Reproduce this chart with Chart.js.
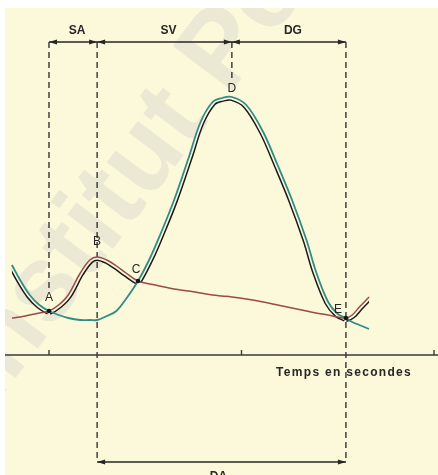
<!DOCTYPE html>
<html>
<head>
<meta charset="utf-8">
<script src="https://cdn.jsdelivr.net/npm/chart.js@4.4.1/dist/chart.umd.min.js"></script>
<style>
  html, body { margin: 0; padding: 0; background: #fff; }
  #wrap { position: absolute; left: 5px; top: 8px; width: 433px; height: 467px; background: #fcf8da; }
</style>
</head>
<body>
<div id="wrap"><canvas id="cycle"></canvas></div>
<script>
// time in seconds, pressures in mmHg
const times = [-0.077, -0.06, -0.04, -0.02, 0, 0.02, 0.04, 0.065, 0.085, 0.10, 0.12, 0.14, 0.16, 0.185, 0.21, 0.23, 0.26, 0.29, 0.315, 0.34, 0.36, 0.38, 0.41, 0.445, 0.475, 0.505, 0.535, 0.555, 0.58, 0.60, 0.617, 0.63, 0.645, 0.665];
const ventricle = [36, 30, 24, 20, 17.6, 16, 14.8, 14, 14, 14, 15.6, 17.6, 22.4, 29.6, 38.8, 47.6, 62, 78.8, 93.2, 101.2, 102.8, 103.2, 100, 89.2, 76, 62, 46, 33.2, 21.2, 16.4, 14.8, 13.2, 12, 10.4];
const atrium = [14.8, 15.2, 16, 16.8, 17.6, 20, 24, 32.8, 38, 39.2, 38, 35.6, 32.8, 29.6, 28.4, 27.6, 26.4, 25.6, 24.8, 24, 23.6, 23.2, 22.4, 21.2, 20, 18.8, 17.6, 16.8, 16, 15.2, 14.8, 16, 19.2, 23.2];

const pointLetters = ['A', 'B', 'C', 'D', 'E'];
const pointTimes = [0, 0.10, 0.185, 0.38, 0.617];
const phaseNames = ['SA', 'SV', 'DG'];
const phaseEdges = [0, 0.10, 0.38, 0.617];
const diastoleName = 'DA';
const diastoleSpan = [0.10, 0.617];
const timeTicks = [0, 0.4, 0.8];
const axisTitle = 'Temps en secondes';

const FONT = '"Liberation Sans", Arial, sans-serif';
const INK = '#262626';
const TEAL = '#2f8c86';
const RED = '#9b4a46';
const PAPER = '#fcf8da';

// letter placement relative to the curve point
const letterShift = { A: [0, -13], B: [0, -15], C: [-2, -11], D: [0, -8], E: [-8, -8] };

function upperOf(own, other) {
  return (c) => own[c.p0DataIndex] >= other[c.p0DataIndex] && own[c.p1DataIndex] >= other[c.p1DataIndex];
}

function series(values, color, width, extra) {
  return Object.assign({
    data: times.map((t, i) => ({ x: t, y: values[i] })),
    borderColor: color,
    borderWidth: width,
    pointRadius: 0,
    fill: false,
    tension: 0.35,
  }, extra || {});
}

// second trace under whichever curve is on top
function edge(values, other, color, width) {
  const upper = upperOf(values, other);
  return series(values, color, width, {
    edge: true,
    segment: { borderColor: (c) => (upper(c) ? color : 'rgba(0,0,0,0)') },
  });
}

// keep edge traces on the inner side of their curve
const edgeClip = {
  id: 'edgeClip',
  beforeDatasetDraw(chart, args) {
    const ds = chart.data.datasets[args.index];
    if (!ds.edge) return;
    args.meta.dataset.updateControlPoints(chart.chartArea, 'x');
    const pts = args.meta.data;
    const ctx = chart.ctx;
    const bottom = chart.chartArea.bottom + 20;
    ctx.save();
    ctx.beginPath();
    ctx.moveTo(pts[0].x, pts[0].y);
    for (let i = 1; i < pts.length; i++) {
      const a = pts[i - 1], b = pts[i];
      ctx.bezierCurveTo(a.cp2x, a.cp2y, b.cp1x, b.cp1y, b.x, b.y);
    }
    ctx.lineTo(pts[pts.length - 1].x, bottom);
    ctx.lineTo(pts[0].x, bottom);
    ctx.closePath();
    ctx.clip();
  },
  afterDatasetDraw(chart, args) {
    if (chart.data.datasets[args.index].edge) chart.ctx.restore();
  },
};

function arrowHead(ctx, tipX, yy, dir) {
  ctx.beginPath();
  ctx.moveTo(tipX, yy);
  ctx.lineTo(tipX - dir * 8, yy - 2.6);
  ctx.lineTo(tipX - dir * 8, yy + 2.6);
  ctx.closePath();
  ctx.fill();
}

function letterPos(chart, k) {
  const { x, y } = chart.scales;
  const i = times.indexOf(pointTimes[k]);
  const v = Math.max(ventricle[i], atrium[i]);
  const [dx, dy] = letterShift[pointLetters[k]];
  return [x.getPixelForValue(pointTimes[k]) + dx, y.getPixelForValue(v) + dy];
}

const backdrop = {
  id: 'backdrop',
  beforeDatasetsDraw(chart) {
    const { ctx, chartArea: area, scales: { x, y } } = chart;
    const px = (t) => x.getPixelForValue(t);
    const topY = 34, lowY = 454;

    ctx.save();
    ctx.translate(-12, 400);
    ctx.rotate(-53 * Math.PI / 180);
    ctx.font = 'bold 108px ' + FONT;
    ctx.fillStyle = 'rgba(200,200,200,0.32)';
    ctx.fillText('Institut Pé', 0, 0);
    ctx.restore();

    ctx.save();
    ctx.strokeStyle = INK;
    ctx.fillStyle = INK;
    ctx.lineWidth = 1.3;

    // dashed guides at phase limits
    ctx.setLineDash([6, 4]);
    phaseEdges.forEach((t) => {
      let end = lowY;
      if (!diastoleSpan.includes(t)) {
        end = letterPos(chart, pointTimes.indexOf(t))[1] - 7;
      }
      ctx.beginPath();
      ctx.moveTo(px(t), topY);
      ctx.lineTo(px(t), end);
      ctx.stroke();
    });
    ctx.setLineDash([]);

    // phase brackets
    ctx.beginPath();
    ctx.moveTo(px(phaseEdges[0]), topY);
    ctx.lineTo(px(phaseEdges[phaseEdges.length - 1]), topY);
    ctx.moveTo(px(diastoleSpan[0]), lowY);
    ctx.lineTo(px(diastoleSpan[1]), lowY);
    ctx.stroke();

    ctx.font = 'bold 12px ' + FONT;
    ctx.textAlign = 'center';
    ctx.textBaseline = 'middle';
    phaseNames.forEach((name, k) => {
      const a = px(phaseEdges[k]), b = px(phaseEdges[k + 1]);
      arrowHead(ctx, a, topY, -1);
      arrowHead(ctx, b, topY, 1);
      ctx.fillText(name, (a + b) / 2 + 4, topY - 11);
    });
    const da = px(diastoleSpan[0]), db = px(diastoleSpan[1]);
    arrowHead(ctx, da, lowY, -1);
    arrowHead(ctx, db, lowY, 1);
    ctx.textBaseline = 'top';
    ctx.fillText(diastoleName, (da + db) / 2 - 3, lowY + 9);

    // time axis
    const y0 = y.getPixelForValue(0);
    ctx.strokeStyle = '#3a3a3a';
    ctx.lineWidth = 1.4;
    ctx.beginPath();
    ctx.moveTo(area.left, y0);
    ctx.lineTo(area.right, y0);
    timeTicks.forEach((t) => {
      ctx.moveTo(px(t), y0);
      ctx.lineTo(px(t), y0 - 5);
    });
    ctx.stroke();

    ctx.textAlign = 'right';
    ctx.textBaseline = 'middle';
    ctx.letterSpacing = '1.3px';
    ctx.fillText(axisTitle, area.right - 26, y0 + 18);
    ctx.restore();
  },
};

const marks = {
  id: 'marks',
  afterDatasetsDraw(chart) {
    const { ctx, scales: { x, y } } = chart;
    ctx.save();
    ctx.fillStyle = '#151515';
    times.forEach((t, i) => {
      if (ventricle[i] === atrium[i]) {
        ctx.beginPath();
        ctx.arc(x.getPixelForValue(t), y.getPixelForValue(ventricle[i]), 2.3, 0, Math.PI * 2);
        ctx.fill();
      }
    });
    ctx.fillStyle = INK;
    ctx.font = '12px ' + FONT;
    ctx.textAlign = 'center';
    ctx.textBaseline = 'middle';
    pointLetters.forEach((ch, k) => {
      const [lx, ly] = letterPos(chart, k);
      ctx.fillText(ch, lx, ly);
    });
    ctx.restore();
  },
};

new Chart(document.getElementById('cycle'), {
  type: 'line',
  data: {
    datasets: [
      series(ventricle, TEAL, 1.8),
      series(atrium, RED, 1.5),
      edge(ventricle, atrium, PAPER, 5),
      edge(atrium, ventricle, PAPER, 5),
      edge(ventricle, atrium, '#1b1b1b', 8),
      edge(atrium, ventricle, '#1b1b1b', 8),
    ],
  },
  options: {
    responsive: true,
    maintainAspectRatio: false,
    animation: false,
    events: [],
    layout: { padding: 0 },
    plugins: { legend: { display: false }, tooltip: { enabled: false } },
    scales: {
      x: { type: 'linear', display: false, min: -0.0914, max: 0.8083 },
      y: { type: 'linear', display: false, min: -48, max: 138.8 },
    },
  },
  plugins: [edgeClip, backdrop, marks],
});
</script>
</body>
</html>
